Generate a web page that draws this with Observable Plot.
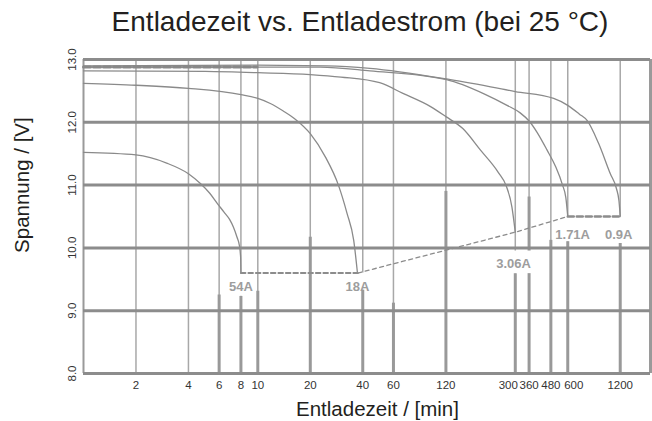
<!DOCTYPE html>
<html>
<head>
<meta charset="utf-8">
<script src="https://cdn.jsdelivr.net/npm/d3@7"></script>
<script src="https://cdn.jsdelivr.net/npm/@observablehq/plot@0.6"></script>
<style>
  body { margin: 0; background: #fff; font-family: "Liberation Sans", Arial, sans-serif; }
  #title { position: relative; width: 652px; height: 44px; }
  #title span { position: absolute; left: 360px; top: 8px; transform: translateX(-50%);
    font-size: 28px; line-height: 28px; color: #231f20; white-space: nowrap; }
  #chart svg { display: block; }
</style>
</head>
<body>
<div id="title"><span>Entladezeit vs. Entladestrom (bei 25 °C)</span></div>
<div id="chart"></div>
<script>
// ---- data ----
const currents = ["54A", "18A", "3.06A", "1.71A", "0.9A"];

const t54 = [1, 2, 3, 4, 4.7, 5.3, 5.85, 6.4, 6.9, 7.25, 7.6, 7.85, 7.97, 8];
const v54 = [11.52, 11.48, 11.35, 11.18, 11.02, 10.87, 10.71, 10.57, 10.45, 10.33, 10.17, 10.03, 9.85, 9.6];

const t18 = [1, 2, 4, 8, 10, 11.8, 14, 16.4, 20, 24.4, 29, 32.5, 35.5, 37.3];
const v18 = [12.62, 12.59, 12.54, 12.44, 12.38, 12.3, 12.18, 12.05, 11.82, 11.45, 11.0, 10.55, 10.12, 9.6];

const t306 = [1, 5, 10, 20, 30, 50, 68, 98, 120, 150, 189, 240, 265, 287, 300];
const v306 = [12.82, 12.81, 12.79, 12.76, 12.72, 12.63, 12.46, 12.25, 12.09, 11.9, 11.56, 11.2, 11.0, 10.65, 10.25];

const t171 = [1, 10, 22.8, 44, 121, 200, 269, 320, 360, 400, 456, 510, 560, 585, 600];
const v171 = [12.88, 12.88, 12.88, 12.82, 12.68, 12.45, 12.27, 12.15, 12.02, 11.84, 11.56, 11.3, 11.0, 10.8, 10.5];

const t09 = [1, 10, 25, 44, 121, 300, 498, 600, 700, 774, 900, 1053, 1140, 1180, 1200];
const v09 = [12.9, 12.91, 12.9, 12.86, 12.69, 12.49, 12.38, 12.27, 12.13, 12.03, 11.67, 11.18, 10.95, 10.75, 10.5];

// top dashed line (open-circuit level)
const topDashT = [1, 9.9];
const topDashV = [12.88, 12.88];

// end-of-discharge dashed line
const eodT1 = [8, 37.5];          const eodV1 = [9.6, 9.6];
const eodT2 = [37.5, 300, 600];   const eodV2 = [9.6, 10.25, 10.5];
const eodT3 = [600, 1200];        const eodV3 = [10.5, 10.5];

// current labels
const labelText = ["54A", "18A", "3.06A", "1.71A", "0.9A"];
const labelX = [8, 37.3, 293.5, 640, 1175];
const labelY = [9.385, 9.385, 9.75, 10.21, 10.21];

// ticks / grid
const xTicks = [2, 4, 6, 8, 10, 20, 40, 60, 120, 300, 360, 480, 600, 1200];
const yTicks = [8, 9, 10, 11, 12, 13];
const thickX = [6, 8, 10, 20, 40, 60, 120, 300, 360, 480, 600, 1200];
const thickFrom = [9.25, 9.23, 9.31, 10.17, 9.33, 9.12, 10.9, 9.59, 10.81, 10.12, 10.1, 10.07];
const gapX = [8, 40, 300, 360, 600, 1200];
const gapTop = [9.6, 9.6, 9.95, 9.95, 10.5, 10.5];
const gapBottom = [9.23, 9.33, 9.59, 9.59, 10.1, 10.07];

const xMin = 1, xMax = 1790, yMin = 8, yMax = 13;

// ---- tables ----
const series = [[t54, v54], [t18, v18], [t306, v306], [t171, v171], [t09, v09]];
const curves = currents.flatMap((c, i) => series[i][0].map((t, j) => ({current: c, t, v: series[i][1][j]})));
const pts = (T, V) => T.map((t, j) => ({t, v: V[j]}));
const thickSegs = thickX.map((x, i) => ({x, y1: thickFrom[i], y2: yMin}));
const gapSegs = gapX.map((x, i) => ({x, y1: gapTop[i], y2: gapBottom[i]}));
const labels = labelText.map((s, i) => ({s, x: labelX[i], y: labelY[i]}));

const grey = "#8c8c8c";
const tickOpts = {x: d => d, text: d => String(d), frameAnchor: "bottom", textAnchor: "middle", lineAnchor: "top", dy: 7.5, fontSize: 11.5, fill: "#333"};

const chart = Plot.plot({
  width: 652,
  height: 377,
  marginLeft: 83,
  marginRight: 2,
  marginTop: 15,
  marginBottom: 48,
  style: {fontFamily: "'Liberation Sans', Arial, sans-serif", background: "#fff"},
  x: {type: "log", domain: [xMin, xMax], axis: null},
  y: {domain: [yMin, yMax], axis: null},
  marks: [
    Plot.ruleX(xTicks, {stroke: "#a8a8a8", strokeWidth: 1.5}),
    Plot.ruleX(thickSegs, {x: "x", y1: "y1", y2: "y2", stroke: "#999", strokeWidth: 3}),
    Plot.ruleX(gapSegs, {x: "x", y1: "y1", y2: "y2", stroke: "#fff", strokeWidth: 6}),
    Plot.ruleX([xMin], {stroke: "#9a9a9a", strokeWidth: 2}),
    Plot.ruleX([xMax], {stroke: "#9a9a9a", strokeWidth: 3}),
    Plot.ruleY(yTicks, {stroke: grey, strokeWidth: 3}),
    Plot.line(curves, {x: "t", y: "v", z: "current", stroke: "#8a8a8a", strokeWidth: 1.3, curve: "monotone-x"}),
    Plot.line(pts(topDashT, topDashV), {x: "t", y: "v", stroke: "#888", strokeWidth: 3, strokeDasharray: "7 3"}),
    Plot.line(pts(eodT1, eodV1), {x: "t", y: "v", stroke: grey, strokeWidth: 2, strokeDasharray: "4.5 3"}),
    Plot.line(pts(eodT2, eodV2), {x: "t", y: "v", stroke: grey, strokeWidth: 1.3, strokeDasharray: "4 3.5"}),
    Plot.line(pts(eodT3, eodV3), {x: "t", y: "v", stroke: grey, strokeWidth: 2.5, strokeDasharray: "6 3"}),
    Plot.text(labels, {x: "x", y: "y", text: "s", fontSize: 13, fontWeight: "bold", fill: "#9d9d9d"}),
    // y tick labels (rotated)
    Plot.text(yTicks, {y: d => d, text: d => d.toFixed(1), frameAnchor: "left", textAnchor: "middle", lineAnchor: "middle", dx: -11.6, rotate: -90, fontSize: 11.5, fill: "#333"}),
    // x tick labels
    Plot.text(xTicks.filter(d => d !== 300 && d !== 600), tickOpts),
    Plot.text([300], {...tickOpts, dx: -7}),
    Plot.text([600], {...tickOpts, dx: 6}),
    // axis titles
    Plot.text(["Spannung / [V]"], {y: () => 11.0, text: d => d, frameAnchor: "left", textAnchor: "middle", lineAnchor: "middle", dx: -61.3, rotate: -90, fontSize: 20.5, fill: "#231f20"}),
    Plot.text(["Entladezeit / [min]"], {text: d => d, frameAnchor: "bottom", textAnchor: "middle", lineAnchor: "middle", dx: 10.5, dy: 35.5, fontSize: 20.5, fill: "#231f20"})
  ]
});
document.getElementById("chart").appendChild(chart);
</script>
</body>
</html>
